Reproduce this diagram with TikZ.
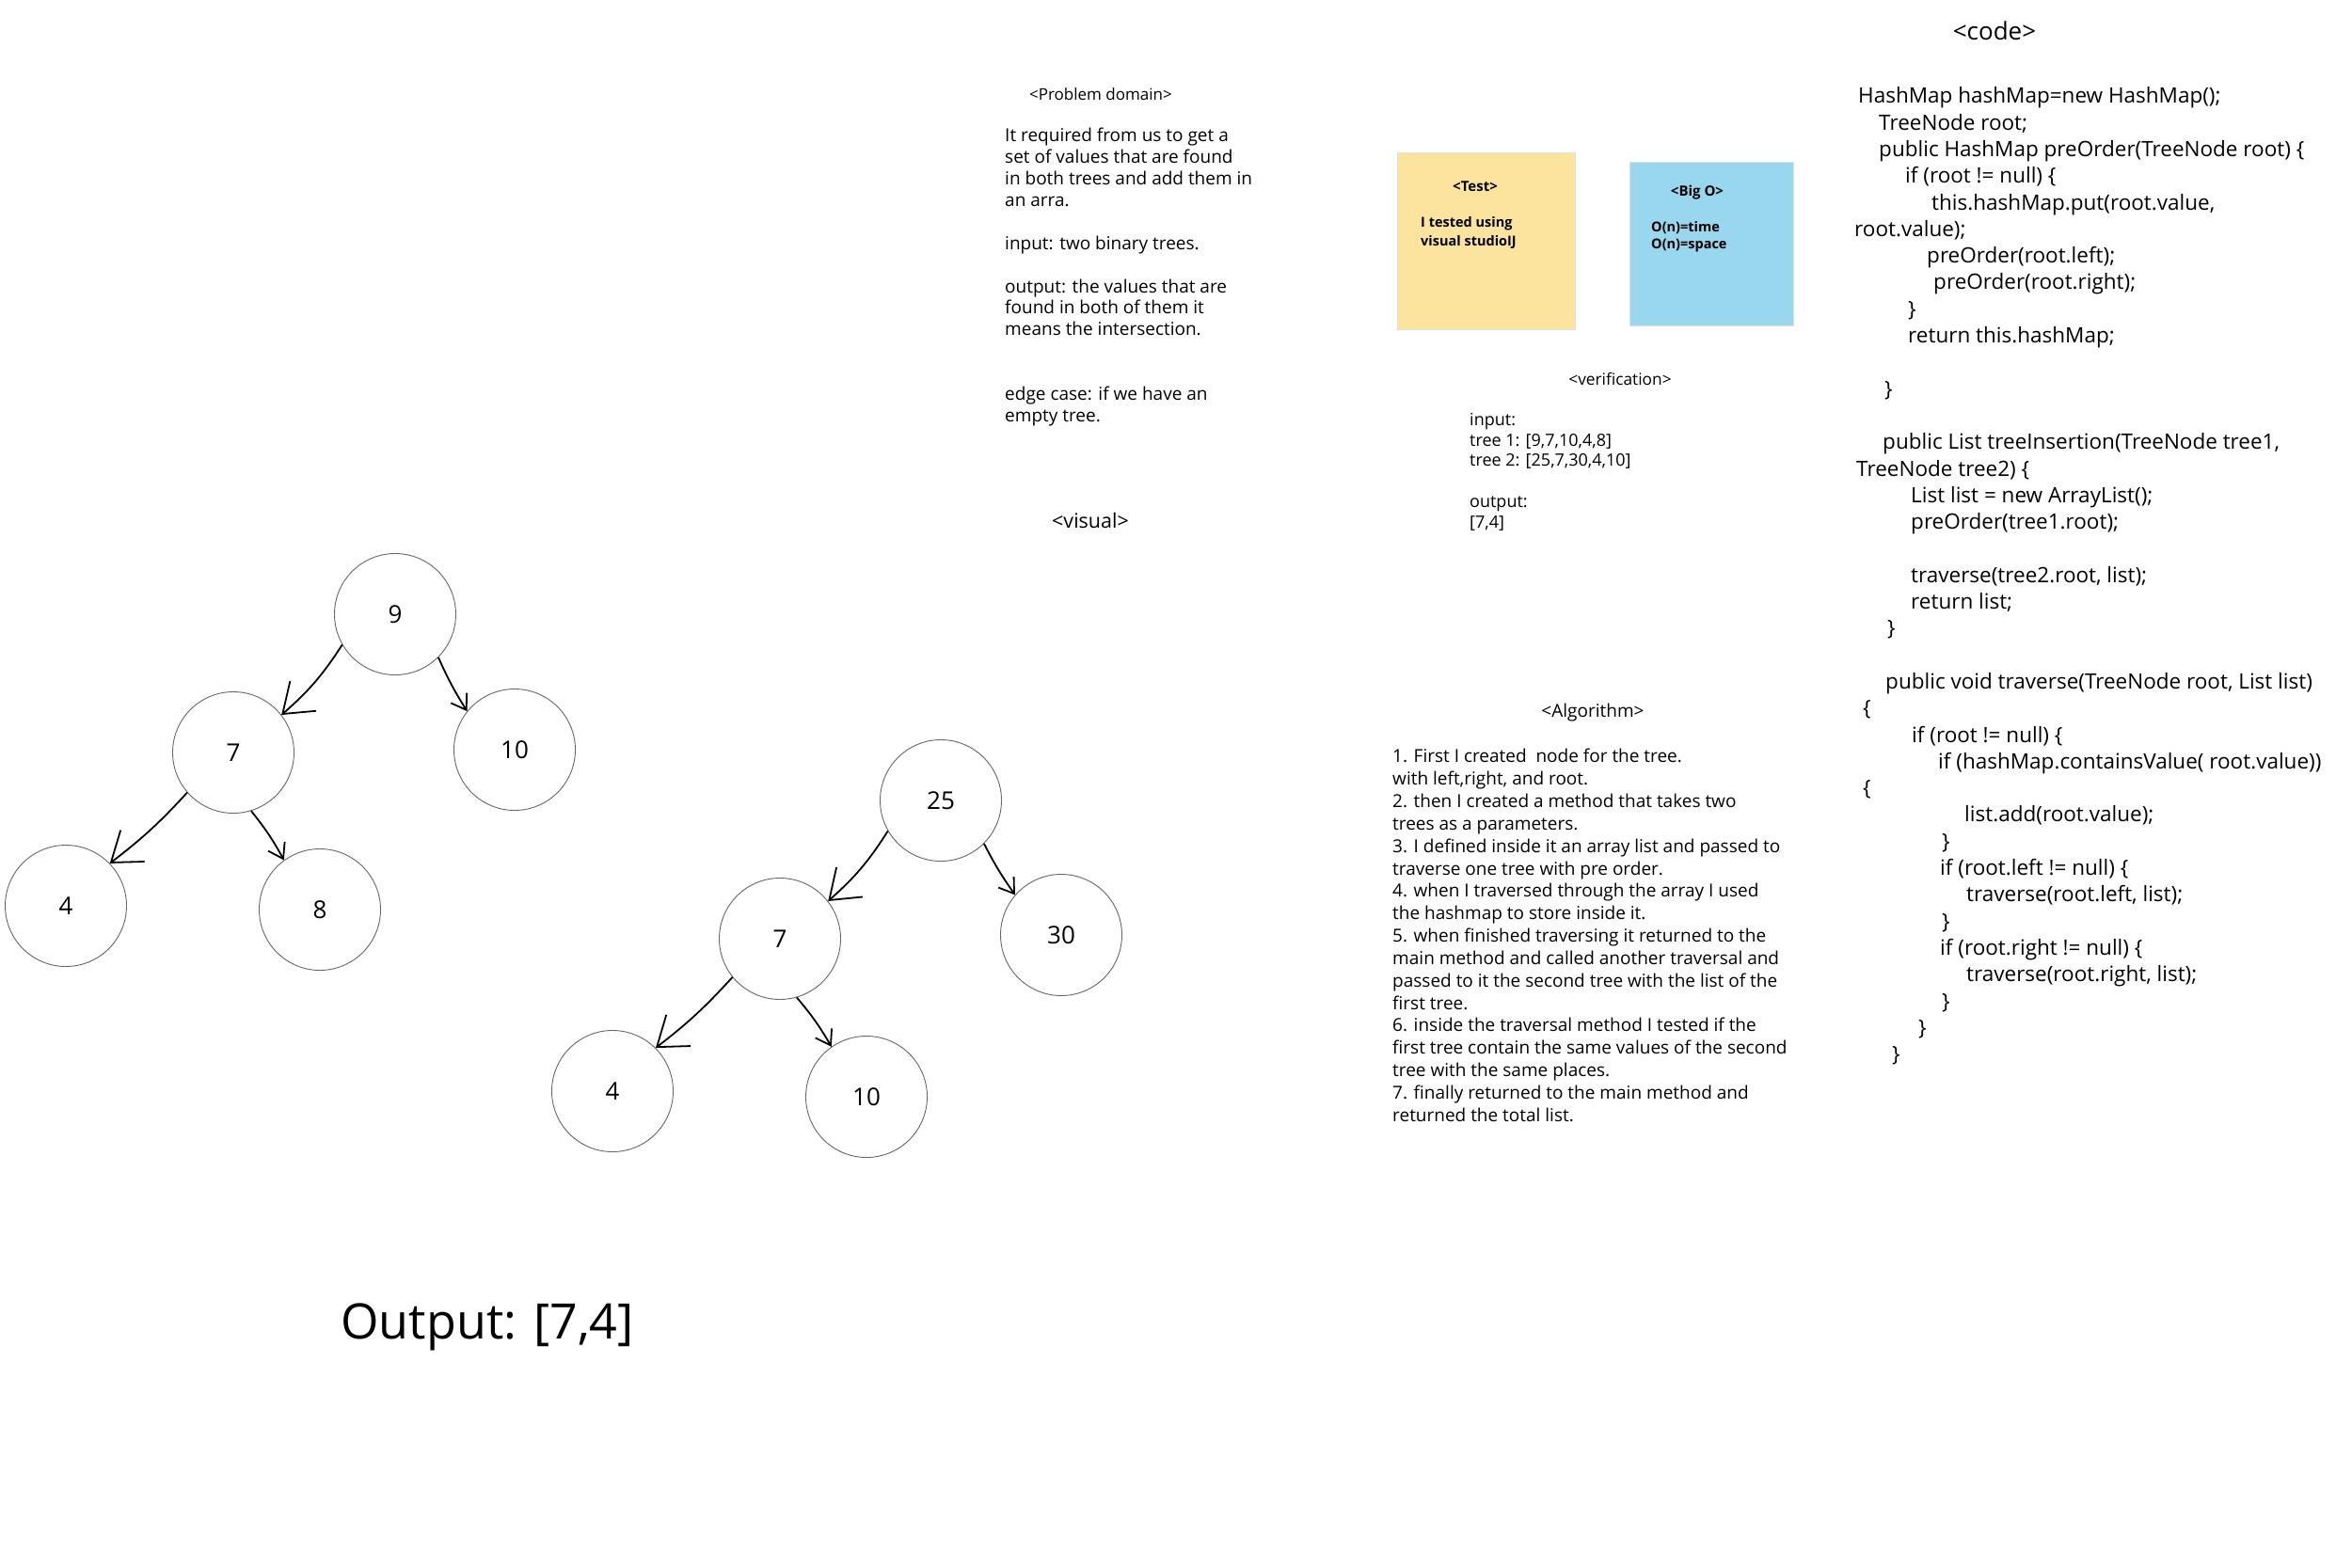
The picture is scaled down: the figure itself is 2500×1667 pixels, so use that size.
\documentclass[tikz,border=0pt]{standalone}
\usepackage{fontspec}
\setmainfont{Open Sans}
\usetikzlibrary{arrows.meta, shapes.geometric, positioning, calc}
\definecolor{stickyy}{HTML}{FDE49E}
\definecolor{stickyb}{HTML}{99D7EF}
\newcommand{\txtsz}[2]{\fontsize{#1}{#2}\selectfont}
\newcommand{\cind}[1]{\hspace*{#1pt}}
\tikzset{
    tn/.style={circle, draw=black!60, line width=0.9pt, minimum size=129pt, inner sep=0pt, font=\txtsz{26}{30}},
    bigarr/.style={line width=1.8pt, -{Straight Barb[length=29pt, width=42pt]}},
    smlarr/.style={line width=1.8pt, -{Straight Barb[length=15pt, width=20pt]}},
    blk/.style={anchor=north west, align=left, inner sep=0pt},
    hdr/.style={inner sep=0pt},
    sticky/.style={draw=black!12, line width=0.8pt, inner sep=0pt}
}

\begin{document}
\begin{tikzpicture}[x=1pt, y=-1pt]
    \fill[white] (0,0) rectangle (2500,1667);
    \useasboundingbox (0,0) rectangle (2500,1667);

    \node[tn] (a9) at (420,653) {9};
    \node[tn] (a7) at (248,800) {7};
    \node[tn] (a10) at (547,797) {10};
    \node[tn] (a4) at (70,963) {4};
    \node[tn] (a8) at (340,967) {8};
    \draw[bigarr] (a9.210) to[bend left=8] (a7.38);
    \draw[smlarr] (a9.315) to[bend right=4] (a10.141);
    \draw[bigarr] (a7.221) to[bend left=5] (a4.44);
    \draw[smlarr] (a7.287) to[bend left=5] (a8.126);

    \node[tn] (b25) at (1000,851) {25};
    \node[tn] (b7) at (829,998) {7};
    \node[tn] (b30) at (1128,994) {30};
    \node[tn] (b4) at (651,1160) {4};
    \node[tn] (b10) at (921,1166) {10};
    \draw[bigarr] (b25.210) to[bend left=8] (b7.38);
    \draw[smlarr] (b25.315) to[bend right=4] (b30.139);
    \draw[bigarr] (b7.219) to[bend left=5] (b4.45);
    \draw[smlarr] (b7.286) to[bend left=5] (b10.125);

    \node[hdr, font=\txtsz{52}{56}] (out) at (518,1411) {Output: [7,4]};

    \node[hdr, font=\txtsz{17}{20}] (pdh) at (1170,100) {<Problem domain>};
    \node[blk, font=\txtsz{19}{22.9}] (pd) at (1068,136) {It required from us to get a\\
        set of values that are found\\
        in both trees and add them in\\
        an arra.\\[22.9pt]
        input: two binary trees.\\[22.9pt]
        output: the values that are\\
        found in both of them it\\
        means the intersection.\\[45.8pt]
        edge case: if we have an\\
        empty tree.};
    \node[hdr, font=\txtsz{21.5}{24}] (vis) at (1159,553) {<visual>};

    \node[sticky, fill=stickyy, minimum width=189pt, minimum height=188pt] (test) at (1579.5,256) {};
    \node[sticky, fill=stickyb, minimum width=174pt, minimum height=174pt] (bigo) at (1819,259) {};
    \node[hdr, font=\bfseries\txtsz{15}{18}] (testh) at (1568,198) {<Test>};
    \node[blk, font=\bfseries\txtsz{14.5}{20}] (testt) at (1510,230) {I tested using\\visual studioIJ};
    \node[hdr, font=\bfseries\txtsz{15}{18}] (bigoh) at (1804,205) {<Big O>};
    \node[blk, font=\bfseries\txtsz{14.5}{18}] (bigot) at (1755,235) {O(n)=time\\O(n)=space};

    \node[hdr, font=\txtsz{17.3}{20}] (verh) at (1722,403) {<verification>};
    \node[blk, font=\txtsz{18}{21.5}] (ver) at (1562,439.5) {input:\\
        tree 1: [9,7,10,4,8]\\
        tree 2: [25,7,30,4,10]\\[22.5pt]
        output:\\{}[7,4]};

    \node[hdr, font=\txtsz{19}{22}] (algh) at (1693,758) {<Algorithm>};
    \node[blk, font=\txtsz{19}{23.85}] (alg) at (1480,796) {1. First I created~ node for the tree.\\
        with left,right, and root.\\
        2. then I created a method that takes two\\
        trees as a parameters.\\
        3. I defined inside it an array list and passed to\\
        traverse one tree with pre order.\\
        4. when I traversed through the array I used\\
        the hashmap to store inside it.\\
        5. when finished traversing it returned to the\\
        main method and called another traversal and\\
        passed to it the second tree with the list of the\\
        first tree.\\
        6. inside the traversal method I tested if the\\
        first tree contain the same values of the second\\
        tree with the same places.\\
        7. finally returned to the main method and\\
        returned the total list.};

    \node[hdr, font=\txtsz{26}{30}] (codeh) at (2120,33) {<code>};
    \node[blk, font=\txtsz{22.5}{28.3}] (code) at (1970,92.5) {\cind{5}HashMap hashMap=new HashMap();\\
        \cind{27}TreeNode root;\\
        \cind{27}public HashMap preOrder(TreeNode root) \{\\
        \cind{55}if (root != null) \{\\
        \cind{83}this.hashMap.put(root.value,\\
        \cind{1}root.value);\\
        \cind{78}preOrder(root.left);\\
        \cind{85}preOrder(root.right);\\
        \cind{58}\}\\
        \cind{58}return this.hashMap;\\[28.3pt]
        \cind{33}\}\\[28.3pt]
        \cind{31}public List treeInsertion(TreeNode tree1,\\
        \cind{3}TreeNode tree2) \{\\
        \cind{61}List list = new ArrayList();\\
        \cind{61}preOrder(tree1.root);\\[28.3pt]
        \cind{61}traverse(tree2.root, list);\\
        \cind{61}return list;\\
        \cind{36}\}\\[28.3pt]
        \cind{34}public void traverse(TreeNode root, List list)\\
        \cind{10}\{\\
        \cind{62}if (root != null) \{\\
        \cind{90}if (hashMap.containsValue( root.value))\\
        \cind{10}\{\\
        \cind{118}list.add(root.value);\\
        \cind{94}\}\\
        \cind{92}if (root.left != null) \{\\
        \cind{120}traverse(root.left, list);\\
        \cind{94}\}\\
        \cind{92}if (root.right != null) \{\\
        \cind{120}traverse(root.right, list);\\
        \cind{94}\}\\
        \cind{69}\}\\
        \cind{41}\}};
\end{tikzpicture}
\end{document}
